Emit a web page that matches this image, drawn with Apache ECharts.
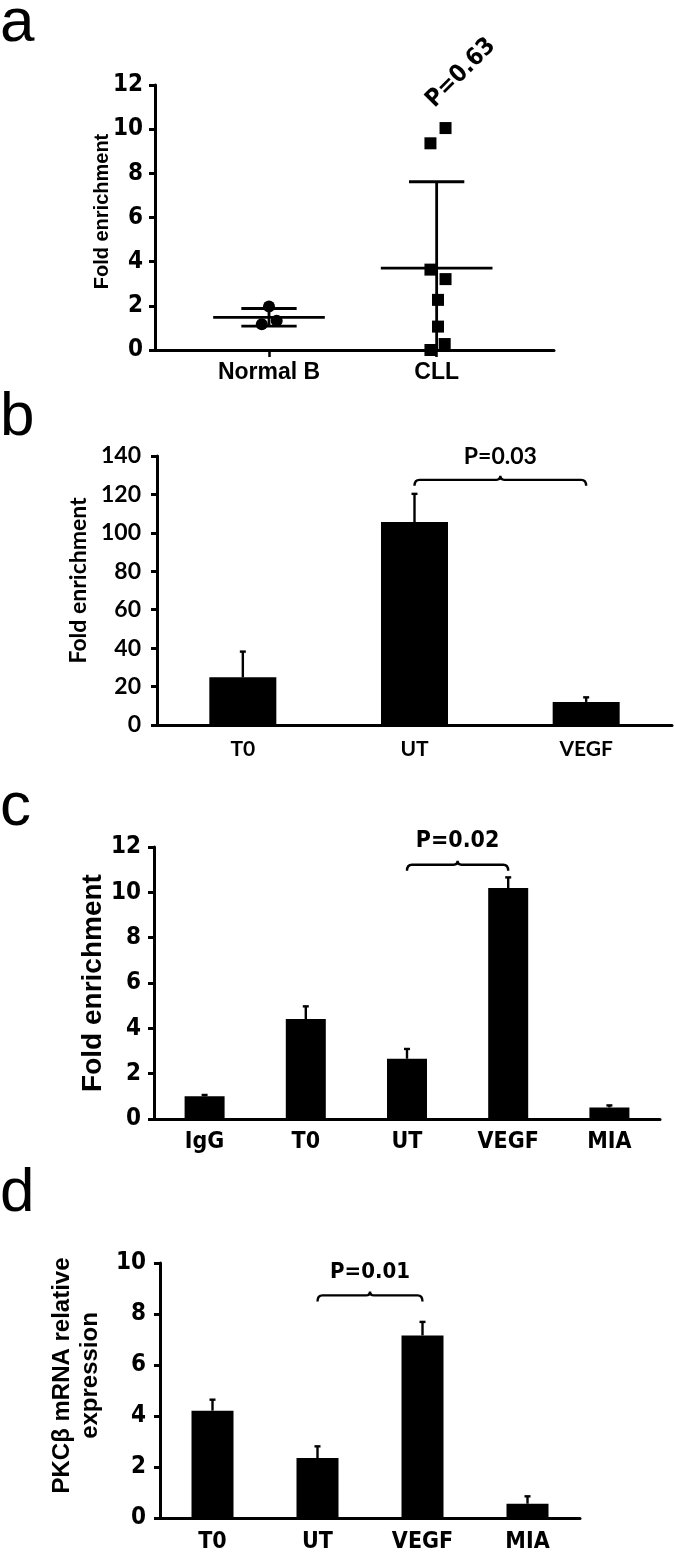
<!DOCTYPE html>
<html><head><meta charset="utf-8">
<script src="https://cdn.jsdelivr.net/npm/echarts@6/dist/echarts.min.js"></script>
<style>html,body{margin:0;padding:0;background:#fff}#c{width:675px;height:1553px}</style>
</head><body><div id="c"></div>
<script>
// ---------- Panel a : scatter with mean ± SD ----------
const aCats = ['Normal B', 'CLL'];
const aCatPos = [1, 2];
const aNormalY = [1.97, 1.17, 1.32];
const aNormalJitter = [0, -0.043, 0.046];
const aCllY = [9.36, 10.05, 3.64, 3.21, 2.27, 1.06, 0.27, 0.0];
const aCllJitter = [-0.037, 0.053, -0.037, 0.053, 0.008, 0.008, 0.048, -0.037];
const aMean = [1.48, 3.71];
const aSD = [0.40, 3.91];
const aP = 'P=0.63';

// ---------- Panel b ----------
const bCats = ['T0', 'UT', 'VEGF'];
const bMeans = [24.8, 105.6, 12.0];
const bErr = [13.4, 14.7, 2.4];
const bBracket = [1, 2, 127.6, 'P=0.03'];

// ---------- Panel c ----------
const cCats = ['IgG', 'T0', 'UT', 'VEGF', 'MIA'];
const cMeans = [1.0, 4.41, 2.66, 10.19, 0.51];
const cErr = [0.06, 0.56, 0.43, 0.47, 0.09];
const cBracket = [2, 3, 11.22, 'P=0.02'];

// ---------- Panel d ----------
const dCats = ['T0', 'UT', 'VEGF', 'MIA'];
const dMeans = [4.21, 2.35, 7.16, 0.56];
const dErr = [0.43, 0.46, 0.53, 0.29];
const dBracket = [1, 2, 8.73, 'P=0.01'];

const NARROW = "'Liberation Sans Narrow', 'DejaVu Sans Condensed', 'Liberation Sans', sans-serif";
const ARIAL = "'Liberation Sans', Arial, sans-serif";
const CAL = "Lato, 'Open Sans', sans-serif";

const chart = echarts.init(document.getElementById('c'));

function errRender(params, api) {
  const x = api.value(0), m = api.value(1), e = api.value(2);
  const p1 = api.coord([x, m]);
  const p2 = api.coord([x, m + e]);
  return { type: 'group', children: [
    { type: 'line', shape: { x1: p1[0], y1: p1[1], x2: p2[0], y2: p2[1] }, style: { stroke: '#000', lineWidth: 2.4 } },
    { type: 'line', shape: { x1: p2[0] - 3, y1: p2[1], x2: p2[0] + 3, y2: p2[1] }, style: { stroke: '#000', lineWidth: 2.4 } }
  ]};
}

function bracketRender(font) {
  return function (params, api) {
    const p1 = api.coord([api.value(0), api.value(2)]);
    const p2 = api.coord([api.value(1), api.value(2)]);
    const y = p1[1], x1 = p1[0], x2 = p2[0], xm = (x1 + x2) / 2;
    const d = 'M' + x1 + ' ' + (y + 6) + ' Q' + x1 + ' ' + y + ' ' + (x1 + 5) + ' ' + y +
      ' L' + (xm - 4) + ' ' + y + ' Q' + xm + ' ' + y + ' ' + xm + ' ' + (y - 4) +
      ' Q' + xm + ' ' + y + ' ' + (xm + 4) + ' ' + y +
      ' L' + (x2 - 5) + ' ' + y + ' Q' + x2 + ' ' + y + ' ' + x2 + ' ' + (y + 6);
    return { type: 'group', children: [
      { type: 'path', shape: { pathData: d }, style: { stroke: '#000', fill: null, lineWidth: 2.4 } },
      { type: 'text', x: xm, y: y - 12, style: { text: api.value(3), textAlign: 'center', textVerticalAlign: 'bottom', font: font, fill: '#000' } }
    ]};
  };
}

function meanSdRender(params, api) {
  const x = api.value(0), m = api.value(1), sd = api.value(2);
  const lo = Math.max(0, m - sd), hi = m + sd;
  const pm = api.coord([x, m]);
  const unit = api.size([1, 0])[0];
  const pl = api.coord([x, lo]), ph = api.coord([x, hi]);
  const st = { stroke: '#000', lineWidth: 2.8 };
  const ch = [
    { type: 'line', shape: { x1: pm[0] - unit * 0.333, y1: pm[1], x2: pm[0] + unit * 0.333, y2: pm[1] }, style: st },
    { type: 'line', shape: { x1: pl[0], y1: pl[1], x2: ph[0], y2: ph[1] }, style: st },
    { type: 'line', shape: { x1: ph[0] - unit * 0.165, y1: ph[1], x2: ph[0] + unit * 0.165, y2: ph[1] }, style: st }
  ];
  if (m - sd >= 0) ch.push({ type: 'line', shape: { x1: pl[0] - unit * 0.165, y1: pl[1], x2: pl[0] + unit * 0.165, y2: pl[1] }, style: st });
  return { type: 'group', children: ch };
}

function yAxisCfg(gi, max, interval, name, nameGap, nameFont, labelFont, lw) {
  return {
    type: 'value', gridIndex: gi, min: 0, max: max, interval: interval,
    name: name, nameLocation: 'middle', nameGap: nameGap, nameRotate: 90,
    nameMoveOverlap: false,
    nameTextStyle: nameFont,
    axisLine: { show: true, lineStyle: { color: '#000', width: lw } },
    axisTick: { show: true, length: 6, lineStyle: { color: '#000', width: lw } },
    splitLine: { show: false },
    axisLabel: labelFont
  };
}

const option = {
  animation: false,
  backgroundColor: '#fff',
  grid: [
    { left: 155, top: 85, width: 399, height: 265, outerBoundsMode: 'none' },
    { left: 157, top: 456, width: 515, height: 269, outerBoundsMode: 'none' },
    { left: 154, top: 847, width: 506, height: 272, outerBoundsMode: 'none' },
    { left: 160, top: 1263, width: 420, height: 255, outerBoundsMode: 'none' }
  ],
  xAxis: [
    { type: 'value', gridIndex: 0, min: 0.32, max: 2.7, splitLine: { show: false },
      axisLine: { show: true, onZero: false, lineStyle: { color: '#000', width: 3 } },
      axisTick: { show: true, customValues: aCatPos, length: 7, lineStyle: { color: '#000', width: 2.5 } },
      axisLabel: { customValues: aCatPos, formatter: v => aCats[aCatPos.indexOf(v)], margin: 11,
        fontFamily: ARIAL, fontWeight: 'bold', fontSize: 23, color: '#000' } },
    { type: 'category', gridIndex: 1, data: bCats,
      axisLine: { lineStyle: { color: '#000', width: 3 } },
      axisTick: { length: 7, lineStyle: { color: '#000', width: 3 } },
      axisLabel: { margin: 14, fontFamily: CAL, fontWeight: 'bold', fontSize: 21, color: '#000' } },
    { type: 'category', gridIndex: 2, data: cCats,
      axisLine: { lineStyle: { color: '#000', width: 3 } },
      axisTick: { length: 7, lineStyle: { color: '#000', width: 3 } },
      axisLabel: { margin: 12, fontFamily: NARROW, fontWeight: 'bold', fontSize: 23, color: '#000' } },
    { type: 'category', gridIndex: 3, data: dCats,
      axisLine: { lineStyle: { color: '#000', width: 3 } },
      axisTick: { length: 7, lineStyle: { color: '#000', width: 3 } },
      axisLabel: { margin: 13, fontFamily: NARROW, fontWeight: 'bold', fontSize: 23, color: '#000' } }
  ],
  yAxis: [
    yAxisCfg(0, 12, 2, 'Fold enrichment', 43,
      { fontFamily: ARIAL, fontWeight: 'bold', fontSize: 20, color: '#000', padding: [0, 0, 0, 12] },
      { margin: 12, fontFamily: NARROW, fontWeight: 'bold', fontSize: 24, color: '#000' }, 3),
    yAxisCfg(1, 140, 20, 'Fold enrichment', 67,
      { fontFamily: CAL, fontWeight: 'bold', fontSize: 23, color: '#000', padding: [0, 0, 0, 20] },
      { margin: 16, fontFamily: CAL, fontWeight: 'bold', fontSize: 23, color: '#000' }, 3),
    yAxisCfg(2, 12, 2, 'Fold enrichment', 47,
      { fontFamily: ARIAL, fontWeight: 'bold', fontSize: 28, color: '#000' },
      { margin: 13, fontFamily: NARROW, fontWeight: 'bold', fontSize: 24, color: '#000' }, 3),
    yAxisCfg(3, 10, 2, 'PKC\u03b2 mRNA relative\nexpression', 56,
      { fontFamily: ARIAL, fontWeight: 'bold', fontSize: 24, lineHeight: 28, color: '#000', padding: [0, 0, 0, 30] },
      { margin: 14, fontFamily: NARROW, fontWeight: 'bold', fontSize: 24, color: '#000' }, 3)
  ],
  series: [
    { type: 'scatter', xAxisIndex: 0, yAxisIndex: 0, symbol: 'circle', symbolSize: 12,
      itemStyle: { color: '#000', opacity: 1 },
      data: aNormalY.map((v, i) => [aCatPos[0] + aNormalJitter[i], v]) },
    { type: 'scatter', xAxisIndex: 0, yAxisIndex: 0, symbol: 'rect', symbolSize: 12,
      itemStyle: { color: '#000', opacity: 1 },
      data: aCllY.map((v, i) => [aCatPos[1] + aCllJitter[i], v]) },
    { type: 'custom', xAxisIndex: 0, yAxisIndex: 0, renderItem: meanSdRender,
      data: aCatPos.map((p, i) => [p, aMean[i], aSD[i]]), z: 5 },

    { type: 'bar', xAxisIndex: 1, yAxisIndex: 1, data: bMeans, barWidth: 67, itemStyle: { color: '#000' } },
    { type: 'custom', xAxisIndex: 1, yAxisIndex: 1, renderItem: errRender,
      data: bMeans.map((m, i) => [i, m, bErr[i]]), z: 5 },
    { type: 'custom', xAxisIndex: 1, yAxisIndex: 1, renderItem: bracketRender('bold 23px ' + CAL),
      data: [bBracket], z: 5 },

    { type: 'bar', xAxisIndex: 2, yAxisIndex: 2, data: cMeans, barWidth: 40, itemStyle: { color: '#000' } },
    { type: 'custom', xAxisIndex: 2, yAxisIndex: 2, renderItem: errRender,
      data: cMeans.map((m, i) => [i, m, cErr[i]]), z: 5 },
    { type: 'custom', xAxisIndex: 2, yAxisIndex: 2, renderItem: bracketRender('bold 23px ' + NARROW),
      data: [cBracket], z: 5 },

    { type: 'bar', xAxisIndex: 3, yAxisIndex: 3, data: dMeans, barWidth: 42, itemStyle: { color: '#000' } },
    { type: 'custom', xAxisIndex: 3, yAxisIndex: 3, renderItem: errRender,
      data: dMeans.map((m, i) => [i, m, dErr[i]]), z: 5 },
    { type: 'custom', xAxisIndex: 3, yAxisIndex: 3, renderItem: bracketRender('bold 22px ' + NARROW),
      data: [dBracket], z: 5 }
  ],
  graphic: [
    { type: 'text', left: 0, top: -7, style: { text: 'a', font: '62px ' + ARIAL, fill: '#000' } },
    { type: 'text', left: 0, top: 387, style: { text: 'b', font: '62px ' + ARIAL, fill: '#000' } },
    { type: 'text', left: 0, top: 777, style: { text: 'c', font: '62px ' + ARIAL, fill: '#000' } },
    { type: 'text', left: 0, top: 1163, style: { text: 'd', font: '62px ' + ARIAL, fill: '#000' } },
    { type: 'text', x: 461, y: 73, rotation: Math.PI / 4,
      style: { text: aP, textAlign: 'center', textVerticalAlign: 'middle', font: 'bold 24px ' + NARROW, fill: '#000' } }
  ]
};
chart.setOption(option);
</script></body></html>
